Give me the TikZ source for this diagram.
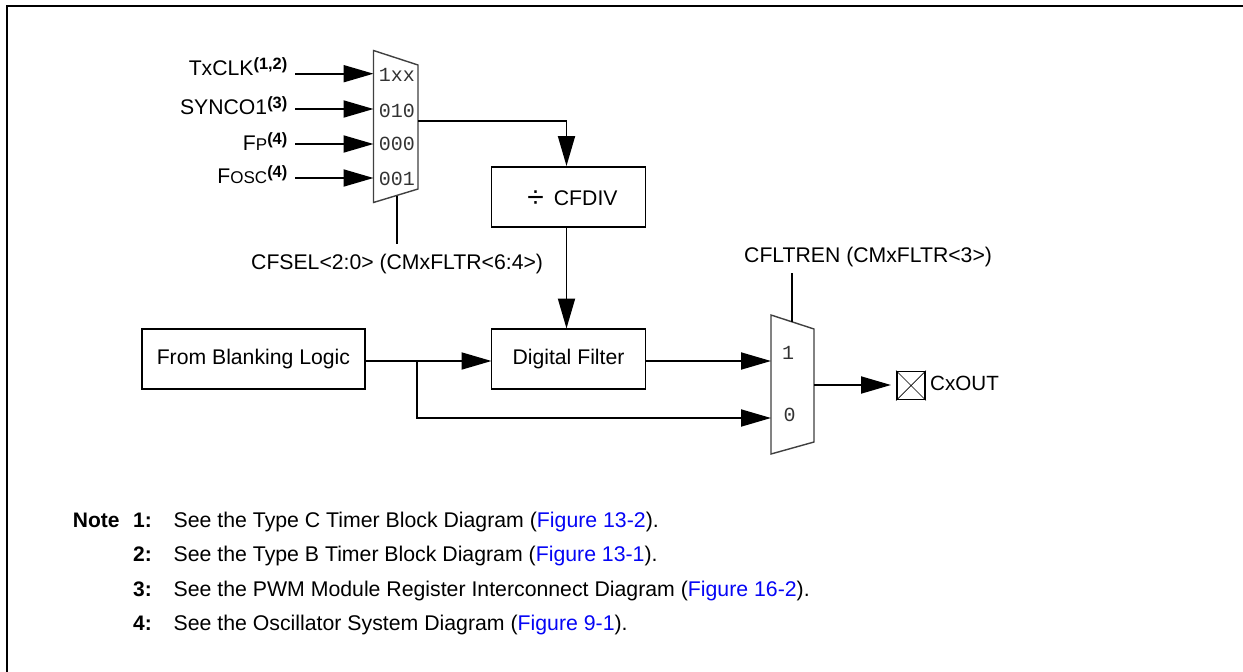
\documentclass[tikz,border=0pt]{standalone}
\usepackage{fontspec}
\setmainfont{Liberation Sans}
\newfontfamily\monof{Liberation Mono}
\usetikzlibrary{arrows.meta}
\definecolor{linkblue}{RGB}{5,5,245}
\newcommand{\supb}[1]{\raisebox{5.5pt}{\fontsize{16.4}{18}\selectfont\bfseries #1}}
\newcommand{\smalltxt}[1]{{\fontsize{17}{19}\selectfont #1}}
\tikzset{
  x=1pt,y=-1pt,
  every node/.style={font=\fontsize{21.2}{24}\selectfont,inner sep=0pt},
  wire/.style={line width=1.9pt,draw=black},
  arrowwire/.style={wire,-{Triangle[length=30pt,width=17pt]}},
  blockbox/.style={draw=black,line width=1.8pt,minimum height=60pt,align=center,inner sep=0pt,text height=15pt,text depth=4.6pt},
  muxbody/.style={draw=black!75,line width=1.4pt,fill=white},
  muxlabel/.style={anchor=base,font=\monof\fontsize{20}{22}\selectfont,text=black!80},
  siglabel/.style={anchor=base east},
  noteline/.style={anchor=base west,font=\fontsize{21.27}{24}\selectfont},
  notenum/.style={anchor=base west,font=\bfseries\fontsize{21}{24}\selectfont},
}
\begin{document}
\begin{tikzpicture}
\useasboundingbox (0,0) rectangle (1243,672);
\draw[line width=2pt] (1243,5.7) -- (6.5,5.7) -- (6.5,672);
% mux 1
\draw[muxbody] (373.5,50.5) coordinate (ma) -- (418,65) -- (418,189) coordinate (mb) -- (373.5,202.5) -- cycle;
\coordinate (m1) at (373.5,73.7);\coordinate (m2) at (373.5,109);\coordinate (m3) at (373.5,144);\coordinate (m4) at (373.5,178);
\coordinate (mo) at (418,121);
\coordinate (ms) at (397,196);
\node[muxlabel] (t1) at (396.8,81.7) {1xx};
\node[muxlabel] (t2) at (396.8,117) {010};
\node[muxlabel] (t3) at (396.8,150.7) {000};
\node[muxlabel] (t4) at (396.8,185) {001};
\coordinate (s1) at (295,73.7);\coordinate (s2) at (295,109);\coordinate (s3) at (295,144);\coordinate (s4) at (295,178);
\node[siglabel] (l1) at (287.5,75) {TxCLK\supb{(1,2)}};
\node[siglabel] (l2) at (287.5,114) {SYNCO1\supb{(3)}};
\node[siglabel] (l3) at (287.5,150) {F\smalltxt{P}\supb{(4)}};
\node[siglabel] (l4) at (287.5,183) {F\smalltxt{OSC}\supb{(4)}};
\foreach \i in {1,2,3,4} \draw[arrowwire] (s\i) -- (m\i);
% boxes
\node[blockbox,minimum width=154pt,text height=20pt,text depth=3.6pt] (div) at (568.5,196.8) {\hspace*{8pt}\raisebox{-2pt}{\fontsize{30}{30}\selectfont ÷}\hspace{10pt}CFDIV};
\node[blockbox,minimum width=154pt] (flt) at (568.5,358.8) {Digital Filter};
\node[blockbox,minimum width=223.5pt] (blk) at (253.4,358.8) {From Blanking Logic};
\coordinate (divin) at (566.5,166);
\coordinate (divout) at (566.5,227);
\coordinate (fltn) at (566.5,328.5);
\draw[arrowwire] (mo) -| (divin);
\draw[arrowwire] (divout) -- (fltn);
\coordinate (sel) at (397,244);
\draw[wire] (ms) -- (sel);
\node[anchor=base west] (sell) at (251,269) {CFSEL<2:0> (CMxFLTR<6:4>)};
% mux 2
\draw[muxbody] (771,315) -- (814,329) -- (814,442) -- (771,454) -- cycle;
\coordinate (n1) at (771,361);\coordinate (n0) at (771,418);\coordinate (no) at (814,385);\coordinate (ns) at (792,322);\coordinate (nst) at (792,273);
\node[muxlabel] (z1) at (788,359) {1};
\node[muxlabel] (z0) at (789.5,421.7) {0};
\draw[wire] (nst) -- (ns);
\node[anchor=base west] (cfl) at (744,262.7) {CFLTREN (CMxFLTR<3>)};
\coordinate (blkout) at (365,361);\coordinate (fltin) at (491.5,361);\coordinate (fltout) at (645.5,361);\coordinate (br) at (417,361);
\draw[arrowwire] (blkout) -- (fltin);
\draw[arrowwire] (fltout) -- (n1);
\draw[arrowwire] (br) |- (n0);
% output pin
\node[draw=black,line width=1.8pt,minimum width=28pt,minimum height=28pt] (pin) at (911,385.5) {};
\draw[line width=0.7pt] (pin.north west) -- (pin.south east) (pin.north east) -- (pin.south west);
\coordinate (pintip) at (891,385);
\draw[arrowwire] (no) -- (pintip);
\node[anchor=base west,font=\fontsize{20.6}{24}\selectfont] (cxo) at (930,390.7) {CxOUT};
% notes
\node[notenum] (nn) at (72.7,527.7) {Note};
\node[notenum] (n1t) at (133,527.7) {1:};
\node[notenum] (n2t) at (133,561) {2:};
\node[notenum] (n3t) at (133,596) {3:};
\node[notenum] (n4t) at (133,630.7) {4:};
\node[noteline] (a1) at (173.5,527.7) {See the Type C Timer Block Diagram (\textcolor{linkblue}{Figure 13-2}).};
\node[noteline] (a2) at (173.5,561) {See the Type B Timer Block Diagram (\textcolor{linkblue}{Figure 13-1}).};
\node[noteline] (a3) at (173.5,596) {See the PWM Module Register Interconnect Diagram (\textcolor{linkblue}{Figure 16-2}).};
\node[noteline] (a4) at (173.5,630.7) {See the Oscillator System Diagram (\textcolor{linkblue}{Figure 9-1}).};
\end{tikzpicture}
\end{document}
